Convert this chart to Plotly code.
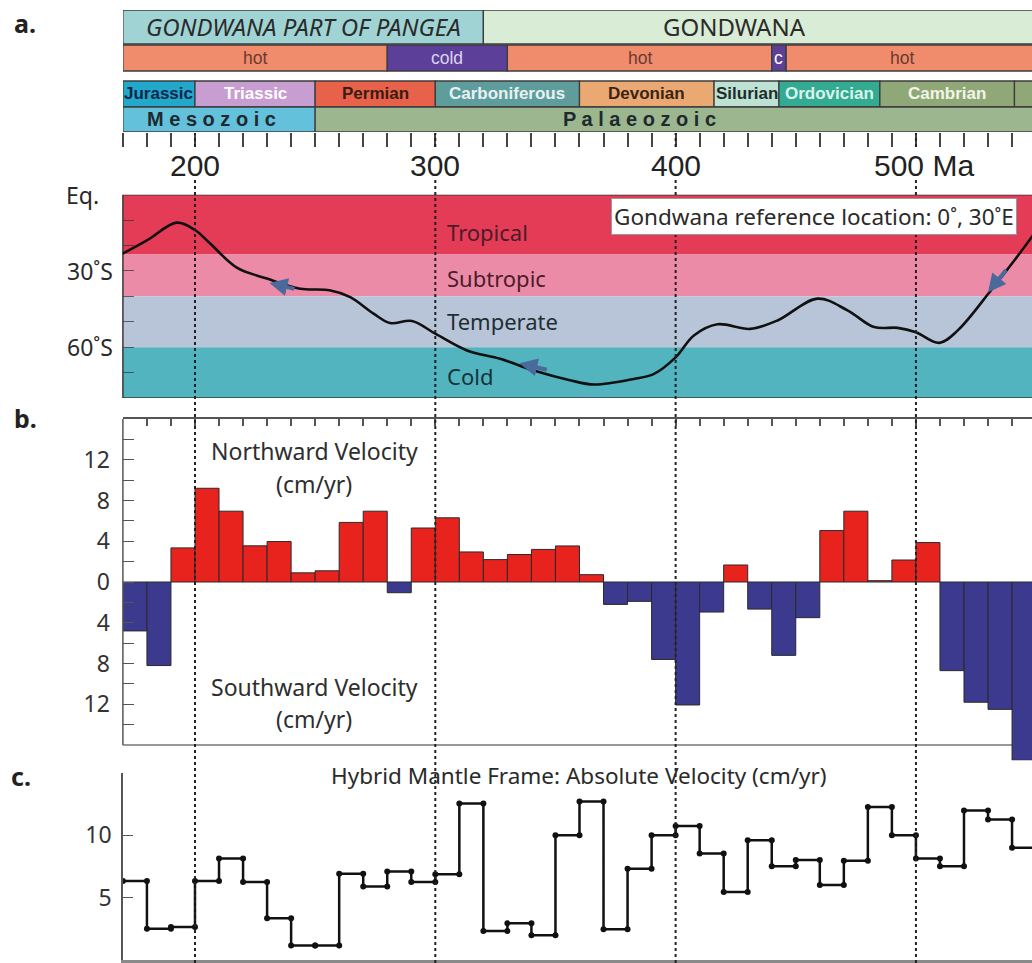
import plotly.graph_objects as go

W, H = 1032, 963
def py(p):
    return 1 - p / H

MY = "Noto Sans"
AR = "Liberation Sans"

X_MIN, X_MAX = 170, 548.3
XDOM = [122.9 / W, 1.0]

# ---------------- timescale data ----------------
setting_names = ["<i>GONDWANA PART OF PANGEA</i>", "GONDWANA"]
setting_start = [170, 320]
setting_end = [320, 560]
setting_colors = ["#a0d4d4", "#d9ecd6"]
setting_label_ma = [245, 424.5]

temp_names = ["hot", "cold", "hot", "c", "hot"]
temp_start = [170, 280, 330, 440, 446]
temp_end = [280, 330, 440, 446, 560]
temp_colors = ["#f08b6c", "#5b3f99", "#f08b6c", "#5b3f99", "#f08b6c"]
temp_text_colors = ["#6a3b30", "#dcd3f2", "#6a3b30", "#ffffff", "#6a3b30"]
temp_label_ma = [225, 305, 385, 443, 494]

period_names = ["Jurassic", "Triassic", "Permian", "Carboniferous", "Devonian",
                "Silurian", "Ordovician", "Cambrian", ""]
period_start = [170, 200, 250, 300, 360, 416, 443, 485, 541]
period_end = [200, 250, 300, 360, 416, 443, 485, 541, 560]
period_colors = ["#21a8cb", "#c79dd2", "#e8614a", "#5f9d9d", "#eaa972",
                 "#bde2d3", "#33ab92", "#90a878", "#90a878"]
period_text_colors = ["#14264a", "#ffffff", "#3a1c12", "#e6f2f2", "#3a2416",
                      "#1f2d2a", "#dcf3ec", "#f0f5e6", "#f0f5e6"]

era_names = ["M e s o z o i c", "P a l a e o z o i c"]
era_start = [170, 250]
era_end = [250, 560]
era_colors = ["#63c1dc", "#9cb78f"]
era_label_ma = [207, 385]

major_ticks = [200, 300, 400, 500]
major_labels = ["200", "300", "400", "500 Ma"]

# ---------------- panel a: palaeolatitude ----------------
zone_names = ["Tropical", "Subtropic", "Temperate", "Cold"]
zone_top = [0, -23.5, -40, -60]
zone_bottom = [-23.5, -40, -60, -80]
zone_colors = ["#e43b56", "#ec8ba8", "#b8c5d9", "#52b4bf"]
zone_text_colors = ["#4a1d28", "#4a1d28", "#1e2e33", "#15343a"]
zone_label_lat = [-14.6, -32.6, -49.6, -71.3]

curve_age = [169.5, 180, 192.4, 200, 206.3, 217.4, 229.9, 243.75, 256, 264.6,
             274.3, 281.25, 290.3, 300, 313.2, 327, 341, 356, 366, 382.6,
             391, 400, 407.6, 417.4, 431, 442.4, 459, 471.5, 482.6, 492.4,
             500, 509.7, 517.4, 531.25, 541, 548.75]
curve_lat = [-23.4, -18, -11.0, -13.9, -19.2, -28.7, -33, -37, -37.6, -40.3,
             -46.8, -50.5, -49.7, -54.7, -61.3, -64.6, -69.2, -73.0, -74.7, -72.5,
             -70.5, -64, -55.4, -51, -52.8, -49.5, -40.9, -45.5, -52.1, -52.4,
             -54.1, -58.3, -53.4, -37.6, -25.8, -15.9]

arrow_tip_age = [231, 335, 530]
arrow_tip_lat = [-34.7, -66.3, -38.4]
arrow_tail_age = [242, 347, 538]
arrow_tail_lat = [-37.2, -69.0, -29.0]

# ---------------- panel b: northward velocity ----------------
bin_start = list(range(170, 550, 10))
north_vel = [-4.8, -8.2, 3.35, 9.2, 6.95, 3.55, 3.97, 0.9, 1.1, 5.85,
             6.95, -1.05, 5.3, 6.3, 2.95, 2.2, 2.7, 3.2, 3.54, 0.72,
             -2.2, -1.9, -7.6, -12.07, -2.95, 1.67, -2.66, -7.2, -3.5, 5.05,
             6.95, 0.13, 2.16, 3.87, -8.7, -11.8, -12.5, -17.5]

# ---------------- panel c: absolute velocity ----------------
abs_vel = [6.33, 2.51, 2.64, 6.33, 8.15, 6.25, 3.34, 1.17, 1.17, 6.92,
           5.9, 7.1, 6.25, 6.87, 12.56, 2.32, 2.94, 1.98, 10.0, 12.72,
           2.46, 7.32, 10.0, 10.74, 8.55, 5.45, 9.6, 7.53, 8.02, 6.01,
           7.97, 12.27, 10.0, 8.15, 7.53, 12.0, 11.28, 9.0]
BIN = 10

fig = go.Figure()

# ---- timescale bars (one horizontal bar trace) ----
rows = [
    (setting_start, setting_end, setting_colors, 105, 34),
    (temp_start, temp_end, temp_colors, 74, 26),
    (period_start, period_end, period_colors, 38, 26),
    (era_start, era_end, era_colors, 12.5, 25),
]
tb_base, tb_len, tb_y, tb_w, tb_col = [], [], [], [], []
for st, en, cols, yc, hh in rows:
    for s, e, c in zip(st, en, cols):
        tb_base.append(s)
        tb_len.append(e - s)
        tb_y.append(yc)
        tb_w.append(hh)
        tb_col.append(c)
fig.add_trace(go.Bar(orientation="h", base=tb_base, x=tb_len, y=tb_y, width=tb_w,
                     marker=dict(color=tb_col, line=dict(color="#3d3d3d", width=1.3)),
                     xaxis="x4", yaxis="y4", hoverinfo="skip", showlegend=False))

ann = []
def add_text(**kw):
    kw.setdefault("xanchor", "center")
    kw.setdefault("yanchor", "middle")
    kw.setdefault("showarrow", False)
    ann.append(kw)

for name, ma in zip(setting_names, setting_label_ma):
    add_text(x=ma, y=105, xref="x4", yref="y4", text=name,
             font=dict(family=MY, size=24, color="#2b2b2b"))
for name, ma, tc in zip(temp_names, temp_label_ma, temp_text_colors):
    add_text(x=ma, y=74, xref="x4", yref="y4", text=name,
             font=dict(family=AR, size=17.5, color=tc))
for name, s, e, tc in zip(period_names, period_start, period_end, period_text_colors):
    if name:
        add_text(x=(max(s, X_MIN) + min(e, X_MAX)) / 2, y=38, xref="x4", yref="y4",
                 text="<b>" + name + "</b>", font=dict(family=AR, size=17, color=tc))
for name, ma in zip(era_names, era_label_ma):
    add_text(x=ma, y=12.5, xref="x4", yref="y4", text="<b>" + name + "</b>",
             font=dict(family=AR, size=20, color="#1f2a2e"))
for m, lab in zip(major_ticks, major_labels):
    add_text(x=m, y=py(166), xref="x4", yref="paper", text=lab,
             xshift=(8 if " " in lab else 0),
             font=dict(family=AR, size=30, color="#222"))

# ---- panel a ----
shapes = []
for t, b, c in zip(zone_top, zone_bottom, zone_colors):
    shapes.append(dict(type="rect", xref="paper", yref="y3", x0=XDOM[0], x1=1, y0=b, y1=t,
                       fillcolor=c, line=dict(width=0), layer="below"))
shapes.append(dict(type="rect", xref="paper", yref="y3", x0=XDOM[0], x1=1.002,
                   y0=zone_bottom[-1], y1=zone_top[0],
                   line=dict(color="#3a3a3a", width=1.5), layer="below"))
fig.add_trace(go.Scatter(x=curve_age, y=curve_lat, mode="lines", line_shape="spline",
                         line=dict(color="#111", width=2.6, smoothing=1.0),
                         xaxis="x3", yaxis="y3", hoverinfo="skip", showlegend=False))
for name, lat, tc in zip(zone_names, zone_label_lat, zone_text_colors):
    add_text(x=304, y=lat, xref="x3", yref="y3", text=name, xanchor="left",
             font=dict(family=MY, size=22, color=tc))
for ta, tl, aa, al in zip(arrow_tip_age, arrow_tip_lat, arrow_tail_age, arrow_tail_lat):
    ann.append(dict(x=ta, y=tl, ax=aa, ay=al, xref="x3", yref="y3", axref="x3", ayref="y3",
                    showarrow=True, arrowhead=2, arrowsize=0.9, arrowwidth=4,
                    arrowcolor="#4a6a9c", text=""))
add_text(x=(604 + 1023) / 2 / W, y=py(216.5), xref="paper", yref="paper",
         text="Gondwana reference location: 0˚, 30˚E",
         bgcolor="white", bordercolor="#9a9a9a", borderwidth=1, borderpad=2,
         font=dict(family=MY, size=22.5, color="#2a2a2a"))
for txt, lat, xr in zip(["Eq.", "30˚S", "60˚S"], [0, -30, -60], [101, 115, 115]):
    add_text(x=xr / W, y=lat, xref="paper", yref="y3", text=txt, xanchor="right",
             font=dict(family=MY, size=23, color="#2a2a2a"))

# ---- panel b ----
fig.add_trace(go.Bar(x=[s + BIN / 2 for s in bin_start], y=north_vel, width=BIN,
                     marker=dict(color=["#e8231e" if v > 0 else "#3c3a8e" for v in north_vel],
                                 line=dict(color="#2a2a2a", width=1)),
                     xaxis="x", yaxis="y", hoverinfo="skip", showlegend=False))
shapes.append(dict(type="line", xref="paper", yref="y", x0=XDOM[0], x1=XDOM[0], y0=-16, y1=16,
                   line=dict(color="#555", width=1.5)))
shapes.append(dict(type="line", xref="paper", yref="y", x0=XDOM[0], x1=1, y0=-16, y1=-16,
                   line=dict(color="#777", width=1.5), layer="below"))
for txt, yy in [("Northward Velocity", 451), ("(cm/yr)", 484),
                ("Southward Velocity", 687), ("(cm/yr)", 719)]:
    add_text(x=314 / W, y=py(yy), xref="paper", yref="paper", text=txt,
             font=dict(family=MY, size=23, color="#2e2e2e"))

# ---- panel c ----
step_x, step_y = [], []
for s, v in zip(bin_start, abs_vel):
    step_x += [s, s + BIN]
    step_y += [v, v]
fig.add_trace(go.Scatter(x=step_x, y=step_y, mode="lines+markers",
                         line=dict(color="#111", width=2.5), marker=dict(size=6, color="#111"),
                         xaxis="x2", yaxis="y2", hoverinfo="skip", showlegend=False))
add_text(x=579 / W, y=py(775), xref="paper", yref="paper",
         text="Hybrid Mantle Frame: Absolute Velocity (cm/yr)",
         font=dict(family=MY, size=22.5, color="#2a2a2a"))

# panel letters
for txt, px_, py_ in [("a.", 25, 23), ("b.", 25, 418), ("c.", 21, 776)]:
    add_text(x=px_ / W, y=py(py_), xref="paper", yref="paper", text="<b>" + txt + "</b>",
             font=dict(family=MY, size=25, color="#222"))

# dotted reference lines
for m in major_ticks:
    shapes.append(dict(type="line", xref="x", yref="paper", x0=m, x1=m, y0=0, y1=py(180),
                       line=dict(color="#222", width=2, dash="dot"), layer="above"))
    shapes.append(dict(type="line", xref="x", yref="paper", x0=m, x1=m, y0=py(147), y1=py(133),
                       line=dict(color="#222", width=2, dash="dot"), layer="above"))

tick_all = list(range(170, 550, 10))
common_x = dict(range=[X_MIN, X_MAX], domain=XDOM, showgrid=False, zeroline=False)

fig.update_layout(
    width=W, height=H, margin=dict(l=0, r=0, t=0, b=0),
    paper_bgcolor="white", plot_bgcolor="rgba(0,0,0,0)",
    barmode="overlay", showlegend=False,
    xaxis=dict(**common_x, anchor="y", side="top", ticks="inside", ticklen=7, tickwidth=1.5,
               tickcolor="#555", tickvals=tick_all, showticklabels=False,
               showline=True, linecolor="#555", linewidth=1.5),
    yaxis=dict(domain=[py(760.3), py(419)], range=[-17.5, 16], anchor="x",
               tickvals=list(range(-14, 15, 2)),
               ticktext=[str(abs(v)) if v % 4 == 0 else "" for v in range(-14, 15, 2)],
               ticks="inside", ticklen=11, tickcolor="#555", tickwidth=1.3,
               ticklabelstandoff=12, showgrid=False, zeroline=False,
               tickfont=dict(family=MY, size=23, color="#333")),
    xaxis2=dict(**common_x, anchor="y2", showticklabels=False, ticks="",
                showline=True, linecolor="#8a8a8a", linewidth=3),
    yaxis2=dict(domain=[py(960), py(773)], range=[0, 15], anchor="x2",
                tickvals=[5, 10, 15], ticktext=["5", "10", ""], ticks="inside", ticklen=10,
                tickcolor="#555", tickwidth=1.3, showline=True, linecolor="#555", linewidth=1.5,
                ticklabelstandoff=5, showgrid=False, zeroline=False,
                tickfont=dict(family=MY, size=23, color="#333")),
    xaxis3=dict(**common_x, anchor="y3", showticklabels=False, ticks="", showline=False),
    yaxis3=dict(domain=[py(398), py(194.7)], range=[-80, 0], anchor="x3",
                tickvals=list(range(-70, 0, 10)), ticks="inside", ticklen=11,
                tickcolor="rgba(50,50,50,0.7)", tickwidth=1.3, showticklabels=False,
                showgrid=False, zeroline=False, showline=False),
    xaxis4=dict(**common_x, anchor="y4", ticks="outside", ticklen=14, tickwidth=2,
                tickcolor="#444", tickvals=tick_all, showticklabels=False, showline=False),
    yaxis4=dict(domain=[py(132), py(10)], range=[0, 122], anchor="x4", visible=False),
    shapes=shapes, annotations=ann,
)

fig.write_html("out.html", config={"displayModeBar": False},
               post_script="document.body.style.margin='0px';")
